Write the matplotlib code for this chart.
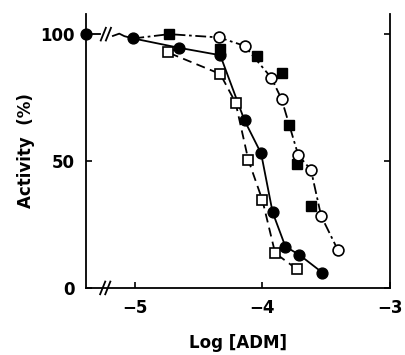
import matplotlib.pyplot as plt
import numpy as np

# control point (no drug) drawn at the left edge, beyond the axis break
ctrl_x = -5.38
ctrl_y = 100

# filled circles, solid line
fc_x = [-5.01, -4.65, -4.33, -4.14, -4.01, -3.92, -3.82, -3.71, -3.53]
fc_y = [98.3, 94.6, 91.7, 66.0, 53.0, 29.8, 16.3, 13.0, 6.0]

# open squares, dashed line
os_x = [-4.74, -4.33, -4.21, -4.11, -4.00, -3.90, -3.73]
os_y = [92.8, 84.3, 73.0, 50.4, 34.6, 13.7, 7.4]

# filled squares
fs_x = [-4.73, -4.33, -4.04, -3.85, -3.79, -3.73, -3.62]
fs_y = [100.0, 94.3, 91.4, 84.5, 64.2, 48.8, 32.3]

# open circles, dash-dot line
oc_x = [-4.34, -4.14, -3.93, -3.85, -3.72, -3.62, -3.54, -3.41]
oc_y = [98.7, 95.4, 82.8, 74.4, 52.4, 46.5, 28.3, 15.0]

xticks = [-5, -4, -3]
xticklabels = ['\u22125', '\u22124', '\u22123']
yticks = [0, 50, 100]

plt.rcParams['font.family'] = 'DejaVu Sans'
plt.rcParams['font.weight'] = 'bold'

fig = plt.figure(figsize=(4.06, 3.55), dpi=100)
ax = fig.add_axes([0.212, 0.189, 0.749, 0.772])

lw = 1.3
ms = 7.8

# dash-dot curve through open circles / filled squares
ax.plot([fc_x[0], fs_x[0]] + oc_x, [fc_y[0], fs_y[0]] + oc_y, color='black', lw=lw,
        dashes=[6, 2, 1.5, 2], zorder=2)
# dashed curve through open squares
ax.plot([fc_x[1]] + os_x, [fc_y[1]] + os_y, color='black', lw=lw, dashes=[5, 3], zorder=2)
# solid curve through filled circles
ax.plot(fc_x, fc_y, color='black', lw=lw, zorder=2)

# line from control to first point, with a break
ax.plot([ctrl_x, -5.27], [ctrl_y, ctrl_y], color='black', lw=lw, clip_on=False, zorder=2)
ax.plot([-5.17, -5.12, -5.08, fc_x[0]], [99.3, 100.2, 99.2, fc_y[0]], color='black', lw=lw, zorder=2)
for bx in [-5.245, -5.205]:
    ax.plot([bx - 0.02, bx + 0.02], [97.5, 102.5], color='black', lw=lw, zorder=2)

ax.plot(os_x, os_y, 's', mfc='white', mec='black', mew=1.2, ms=ms, ls='none', zorder=3)
ax.plot(fs_x, fs_y, 's', mfc='black', mec='black', ms=ms, ls='none', zorder=3)
ax.plot(oc_x, oc_y, 'o', mfc='white', mec='black', mew=1.2, ms=ms, ls='none', zorder=4)
ax.plot(fc_x, fc_y, 'o', mfc='black', mec='black', ms=ms, ls='none', zorder=4)
ax.plot([ctrl_x], [ctrl_y], 'o', mfc='black', mec='black', ms=ms, clip_on=False, zorder=5)

# axis break on the x axis
for bx in [-5.25, -5.21]:
    ax.plot([bx - 0.02, bx + 0.02], [-2.5, 2.5], color='black', lw=lw, clip_on=False, zorder=5)

ax.set_xlim(-5.38, -3.0)
ax.set_ylim(0, 108)
ax.set_xticks(xticks)
ax.set_xticklabels(xticklabels)
ax.set_yticks(yticks)
ax.tick_params(direction='in', length=4, width=1.2, labelsize=12, pad=8)
ax.tick_params(axis='y', right=True, labelright=False)
ax.spines['top'].set_visible(False)
for s in ['left', 'right', 'bottom']:
    ax.spines[s].set_linewidth(1.3)

ax.set_xlabel('Log [ADM]', fontsize=12, fontweight='bold', labelpad=12)
ax.set_ylabel('Activity  (%)', fontsize=12, fontweight='bold', labelpad=4)

fig.savefig('out.png', dpi=100)
